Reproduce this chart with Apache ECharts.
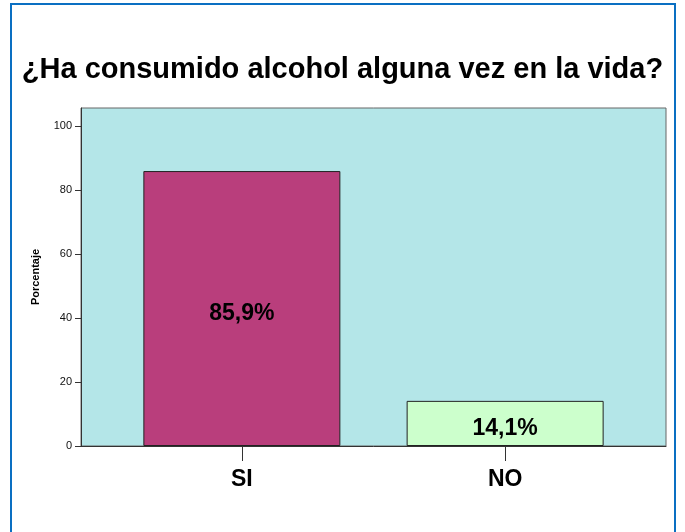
<!DOCTYPE html>
<html>
<head>
<meta charset="utf-8">
<title>Consumo de alcohol</title>
<script src="https://cdn.jsdelivr.net/npm/echarts@6/dist/echarts.min.js"></script>
<style>
  html, body { margin: 0; padding: 0; background: #fff; }
  #main { width: 685px; height: 532px; }
</style>
</head>
<body>
<div id="main"></div>
<script>
// datos
const categories = ['SI', 'NO']
const percentages = [85.9, 14.1]
const barColors = ['#B93E7C', '#CCFFCC']
const yTicks = [0, 20, 40, 60, 80, 100]

const chart = echarts.init(document.getElementById('main'))

const option = {
  backgroundColor: '#fff',
  animation: false,
  title: {
    text: '¿Ha consumido alcohol alguna vez en la vida?',
    left: 'center',
    top: 50,
    textStyle: {
      fontFamily: 'Liberation Sans, Arial, sans-serif',
      fontSize: 29,
      fontWeight: 'bold',
      color: '#000'
    }
  },
  graphic: [
    {
      type: 'rect',
      shape: { x: 11, y: 4, width: 664, height: 560 },
      style: { fill: null, stroke: '#0A6FC2', lineWidth: 2 },
      silent: true
    }
  ],
  grid: {
    left: 81,
    top: 108,
    width: 585,
    height: 338,
    show: true,
    backgroundColor: '#B4E6E8',
    borderColor: '#666',
    borderWidth: 1
  },
  xAxis: {
    type: 'value',
    min: 0.389,
    max: 2.611,
    splitLine: { show: false },
    axisLine: { show: true, onZero: false, lineStyle: { color: '#333', width: 1 } },
    axisTick: {
      show: true,
      length: 15,
      customValues: [1, 2],
      lineStyle: { color: '#333' }
    },
    axisLabel: {
      customValues: [1, 2],
      margin: 22,
      formatter: v => categories[Math.round(v) - 1] || '',
      fontFamily: 'Liberation Sans, Arial, sans-serif',
      fontSize: 23,
      fontWeight: 'bold',
      color: '#000'
    }
  },
  yAxis: {
    type: 'value',
    min: 0,
    max: 105.6,
    name: 'Porcentaje',
    nameLocation: 'middle',
    nameRotate: 90,
    nameGap: 40,
    nameTextStyle: {
      fontFamily: 'Liberation Sans, Arial, sans-serif',
      fontSize: 11,
      fontWeight: 'bold',
      color: '#000'
    },
    splitLine: { show: false },
    axisLine: { show: true, lineStyle: { color: '#333' } },
    axisTick: {
      show: true,
      length: 6,
      customValues: yTicks,
      lineStyle: { color: '#333' }
    },
    axisLabel: {
      customValues: yTicks,
      margin: 9,
      fontFamily: 'Liberation Sans, Arial, sans-serif',
      fontSize: 11,
      color: '#111'
    }
  },
  series: [
    {
      type: 'bar',
      barWidth: 197,
      data: percentages.map((v, i) => ({
        value: [i + 1, v],
        itemStyle: { color: barColors[i], borderColor: '#222', borderWidth: 1 }
      })),
      label: {
        show: true,
        position: 'inside',
        offset: [0, 5],
        formatter: p => p.value[1].toFixed(1).replace('.', ',') + '%',
        fontFamily: 'Liberation Sans, Arial, sans-serif',
        fontSize: 23,
        fontWeight: 'bold',
        color: '#000'
      }
    }
  ]
}

chart.setOption(option)
</script>
</body>
</html>
